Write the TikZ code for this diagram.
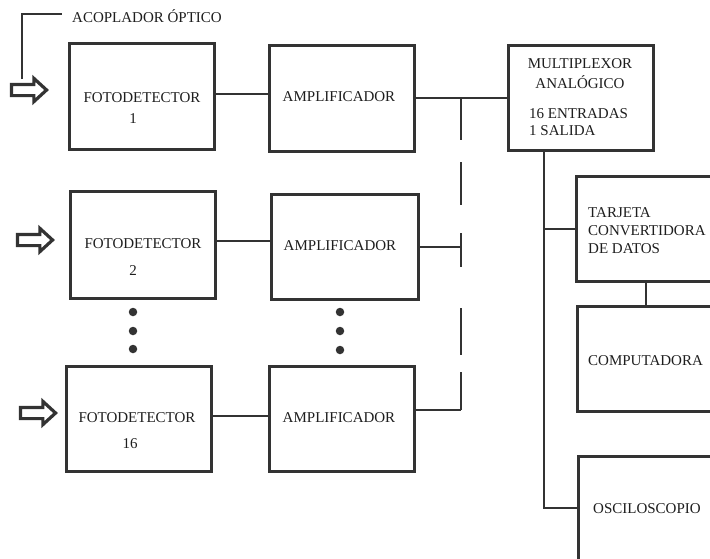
\documentclass[tikz,border=0pt]{standalone}
\usepackage{fontspec}
\setmainfont{Liberation Serif}
\usetikzlibrary{shapes.arrows}
\definecolor{linec}{HTML}{333333}
\definecolor{txtc}{HTML}{1E1E1E}
\begin{document}
\begin{tikzpicture}[x=1pt,y=-1pt,
  box/.style={draw=linec,line width=2.8pt,rectangle,inner sep=0pt,anchor=north west},
  lbl/.style={inner sep=0pt,text=txtc,font=\fontsize{15}{18}\selectfont,text height=10pt,text depth=0pt},
  wire/.style={draw=linec,line width=2.8pt},
  inarrow/.style={single arrow,draw=linec,fill=white,line width=3.2pt,inner sep=4pt,
     single arrow head extend=6pt,minimum height=35pt,single arrow tip angle=85},
  dotc/.style={circle,fill=linec,inner sep=0pt,minimum size=8.5pt}]
\clip (0,0) rectangle (710,558);
\fill[white] (0,0) rectangle (710,558);
% boxes
\node[box,minimum width=145pt,minimum height=106pt] (fd1) at (68,42) {};
\node[box,minimum width=145pt,minimum height=107pt] (fd2) at (69,190) {};
\node[box,minimum width=145pt,minimum height=105pt] (fd16) at (65,365) {};
\node[box,minimum width=145pt,minimum height=106pt] (amp1) at (268,44) {};
\node[box,minimum width=147pt,minimum height=105pt] (amp2) at (270,193) {};
\node[box,minimum width=145pt,minimum height=105pt] (amp16) at (268,365) {};
\node[box,minimum width=145pt,minimum height=105pt] (mux) at (507,44) {};
\node[box,minimum width=200pt,minimum height=105pt] (tarj) at (575,175) {};
\node[box,minimum width=200pt,minimum height=105pt] (comp) at (576,305) {};
\node[box,minimum width=200pt,minimum height=150pt] (osc) at (577,455) {};
% texts
\node[lbl] (t1a) at (142,97) {FOTODETECTOR};
\node[lbl] (t1b) at (133,118) {1};
\node[lbl] (t2a) at (143,243) {FOTODETECTOR};
\node[lbl] (t2b) at (133,270) {2};
\node[lbl] (t3a) at (137,417) {FOTODETECTOR};
\node[lbl] (t3b) at (130,443) {16};
\node[lbl] (ta1) at (339,96) {AMPLIFICADOR};
\node[lbl] (ta2) at (340,245) {AMPLIFICADOR};
\node[lbl] (ta3) at (339,417) {AMPLIFICADOR};
\node[lbl] (tm1) at (580,63) {MULTIPLEXOR};
\node[lbl] (tm2) at (580,83) {ANALÓGICO};
\node[lbl,anchor=west] (tm3) at (529,113) {16 ENTRADAS};
\node[lbl,anchor=west] (tm4) at (529,130) {1 SALIDA};
\node[lbl,anchor=west] (tt1) at (588,212) {TARJETA};
\node[lbl,anchor=west] (tt2) at (588,230) {CONVERTIDORA};
\node[lbl,anchor=west] (tt3) at (588,248) {DE DATOS};
\node[lbl,anchor=west] (tc) at (588,360) {COMPUTADORA};
\node[lbl,anchor=west] (to) at (593,508) {OSCILOSCOPIO};
\node[lbl,anchor=west] (tac) at (72,17) {ACOPLADOR ÓPTICO};
% input arrows
\node[inarrow] (ar1) at (26,90) {};
\node[inarrow] (ar2) at (32,240) {};
\node[inarrow] (ar3) at (35,413) {};
% coupler bracket
\coordinate (acA) at (22,79);
\coordinate (acB) at (22,14);
\coordinate (acC) at (62,14);
\draw[draw=linec,line width=1.3pt] (acA) -- (acB) -- (acC);
% dots
\node[dotc] (d1) at (133,312) {};
\node[dotc] (d2) at (133,331) {};
\node[dotc] (d3) at (133,349) {};
\node[dotc] (d4) at (340,312) {};
\node[dotc] (d5) at (340,331) {};
\node[dotc] (d6) at (340,350) {};
% connectors
\coordinate (y1) at (0,94);
\coordinate (y2) at (0,98);
\coordinate (y3) at (0,241);
\coordinate (y4) at (0,247);
\coordinate (y5) at (0,416);
\coordinate (busT) at (461,98);
\coordinate (busB) at (461,410);
\coordinate (vx) at (544,0);
\coordinate (jo) at (544,508);
\coordinate (tx) at (646,0);
\path[wire] (fd1.east |- y1) -- (amp1.west |- y1);
\path[wire] (fd2.east |- y3) -- (amp2.west |- y3);
\path[wire] (fd16.east |- y5) -- (amp16.west |- y5);
\path[wire] (amp1.east |- y2) -- (mux.west |- y2);
\path[wire] (amp2.east |- y4) -- (busT |- y4);
\path[wire] (amp16.east |- busB) -- (busB);
\path[wire,dash pattern=on 42pt off 22pt on 43pt off 28pt on 34pt off 41pt on 47pt off 17pt on 38pt] (busT) -- (busB);
\path[wire] (mux.south -| vx) -- (jo) -- (jo -| osc.west);
\path[wire] (tarj.west -| vx) -- (tarj.west);
\path[wire] (tarj.south -| tx) -- (comp.north -| tx);
\end{tikzpicture}
\end{document}
